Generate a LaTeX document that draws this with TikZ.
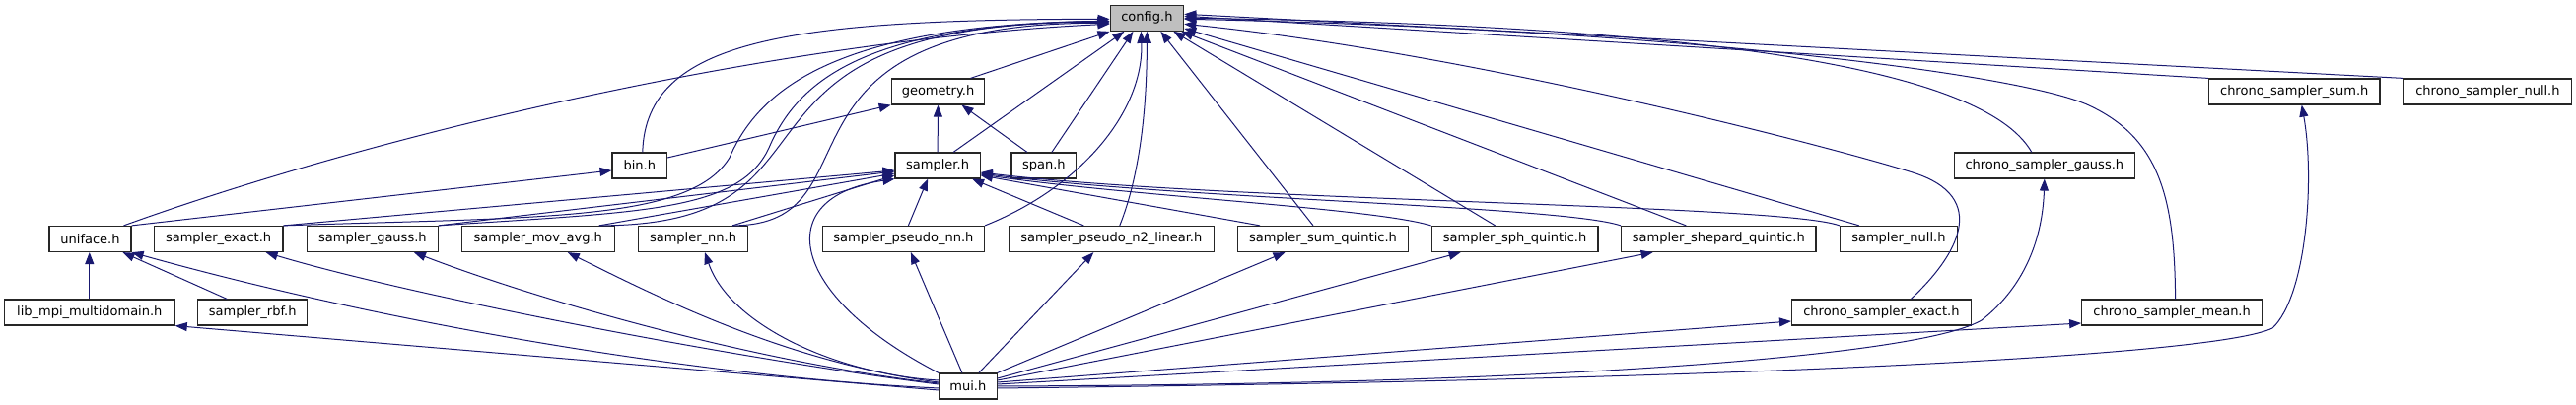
\documentclass[tikz,border=0pt]{standalone}
\usepackage{fontspec}
\setmainfont{DejaVu Sans}
\usepackage{tikz}
\usetikzlibrary{arrows.meta}
\definecolor{dblue}{RGB}{25,25,112}
\definecolor{dgray}{HTML}{BFBFBF}

\begin{document}
\begin{tikzpicture}[x=1pt, y=-1pt,
  file/.style={draw=black!85, line width=1.2pt, fill=white, minimum height=26pt,
    inner sep=0pt, font=\fontsize{13}{15}\selectfont},
  dep/.style={draw=dblue, line width=1pt, -{Triangle[length=12pt,width=9pt]}}]

  \useasboundingbox (0,0) rectangle (2613,411);

  %% row 0
  \node[file, fill=dgray, minimum width=74.6pt] (config) at (1163.4,18.3) {config.h};

  %% row 1
  \node[file, minimum width=94.6pt]  (geometry) at (951.5,93)  {geometry.h};
  \node[file, minimum width=173.5pt] (csum)     at (2327.2,93) {chrono\_sampler\_sum.h};
  \node[file, minimum width=170.1pt] (cnull)    at (2523.4,93) {chrono\_sampler\_null.h};

  %% row 2
  \node[file, minimum width=55.5pt]  (bin)     at (648.8,168)  {bin.h};
  \node[file, minimum width=86.1pt]  (sampler) at (951.1,168)  {sampler.h};
  \node[file, minimum width=65.8pt]  (span)    at (1058.9,168) {span.h};
  \node[file, minimum width=182.8pt] (cgauss)  at (2073.8,168) {chrono\_sampler\_gauss.h};

  %% row 3
  \node[file, minimum width=83pt]    (uniface) at (91.5,242.5)   {uniface.h};
  \node[file, minimum width=130.8pt] (sexact)  at (221.6,242.5)  {sampler\_exact.h};
  \node[file, minimum width=132.6pt] (sgauss)  at (377.9,242.5)  {sampler\_gauss.h};
  \node[file, minimum width=154.9pt] (smov)    at (545.8,242.5)  {sampler\_mov\_avg.h};
  \node[file, minimum width=111pt]   (snn)     at (703,242.5)    {sampler\_nn.h};
  \node[file, minimum width=164.2pt] (spnn)    at (916.4,242.5)  {sampler\_pseudo\_nn.h};
  \node[file, minimum width=207.8pt] (sn2)     at (1127.3,242.5) {sampler\_pseudo\_n2\_linear.h};
  \node[file, minimum width=173.4pt] (ssum)    at (1342,242.5)   {sampler\_sum\_quintic.h};
  \node[file, minimum width=168.8pt] (ssph)    at (1536.6,242.5) {sampler\_sph\_quintic.h};
  \node[file, minimum width=197.5pt] (sshep)   at (1743.3,242.5) {sampler\_shepard\_quintic.h};
  \node[file, minimum width=118.8pt] (snull)   at (1925.9,242.5) {sampler\_null.h};

  %% row 4
  \node[file, minimum width=172.7pt] (libmpi) at (90.8,317)   {lib\_mpi\_multidomain.h};
  \node[file, minimum width=110.7pt] (srbf)   at (256.2,317)  {sampler\_rbf.h};
  \node[file, minimum width=181.7pt] (cexact) at (1908.4,317) {chrono\_sampler\_exact.h};
  \node[file, minimum width=182.8pt] (cmean)  at (2203.1,317) {chrono\_sampler\_mean.h};

  %% row 5
  \node[file, minimum width=58.5pt] (mui) at (981.9,392) {mui.h};

  %% into config.h, from the left
  \draw[dep] ([xshift=3pt]bin.north) .. controls (655,40) and (800,20) .. ([yshift=-1pt]config.west);
  \draw[dep] ([xshift=34pt]uniface.north) .. controls (400,130) and (800,40) .. ([yshift=-6pt]config.west);
  \draw[dep] (sexact.north east) .. controls (550,220) and (700,225) .. (740,160)
    .. controls (770,90) and (850,25) .. ([yshift=-3pt]config.west);
  \draw[dep] (sgauss.north east) .. controls (650,215) and (750,215) .. (780,150)
    .. controls (810,80) and (880,25) .. ([yshift=-3pt]config.west);
  \draw[dep] ([xshift=62pt]smov.north) .. controls +(272,0) and +(-426,0) .. ([yshift=-4pt]config.west);
  \draw[dep] ([xshift=40pt]snn.north) .. controls +(155,0) and +(-365,0) .. ([yshift=-5pt]config.west);

  %% into config.h, from below
  \draw[dep] ([xshift=33pt]geometry.north) -- (config.south west);
  \draw[dep] ([xshift=16pt]sampler.north) -- ([xshift=-23pt]config.south);
  \draw[dep] ([xshift=8pt]span.north) -- ([xshift=-14pt]config.south);
  \draw[dep] (spnn.north east) .. controls +(100,-40) and +(3,79) .. ([xshift=-6pt]config.south);
  \draw[dep] ([xshift=8.5pt]sn2.north) .. controls +(20,-50) and +(0,80) .. (config.south);
  \draw[dep] ([xshift=-10pt]ssum.north) -- ([xshift=14pt]config.south);
  \draw[dep] ([xshift=-20pt]ssph.north) -- ([xshift=27pt]config.south);
  \draw[dep] ([xshift=-33pt]sshep.north) -- ([xshift=-3pt]config.south east);
  \draw[dep] ([xshift=-40pt]snull.north) -- ([yshift=3pt]config.south east);

  %% into config.h, from the right
  \draw[dep] ([xshift=30pt]cexact.north) .. controls (1985,260) and (2020,200) .. (1940,175)
    .. controls (1860,150) and (1500,55) .. ([yshift=-6pt]config.east);
  \draw[dep] ([xshift=3.5pt]cmean.north) .. controls (2206,200) and (2190,140) .. (2119,107)
    .. controls (2050,75) and (1700,30) .. ([yshift=-1pt]config.east);
  \draw[dep] ([xshift=-13pt]cgauss.north) .. controls (2010,65) and (1700,25) .. (config.east);
  \draw[dep] (csum.north west) -- ([yshift=2pt]config.east);
  \draw[dep] (cnull.north west) -- ([yshift=4pt]config.east);

  %% geometry.h and bin.h
  \draw[dep] ([yshift=8pt]bin.east) -- (geometry.south west);
  \draw[dep] (sampler.north) -- (geometry.south);
  \draw[dep] ([xshift=-17pt]span.north) -- ([xshift=24pt]geometry.south);
  \draw[dep] (uniface.north east) -- ([yshift=-5pt]bin.west);

  %% into sampler.h
  \draw[dep] (sexact.north east) -- ([yshift=-5pt]sampler.west);
  \draw[dep] (sgauss.north east) -- ([yshift=-6pt]sampler.west);
  \draw[dep] ([xshift=62pt]smov.north) -- ([yshift=-8pt]sampler.west);
  \draw[dep] ([xshift=40pt]snn.north) -- ([yshift=-10pt]sampler.west);
  \draw[dep] ([xshift=5pt]spnn.north) -- ([xshift=-10pt]sampler.south);
  \draw[dep] ([xshift=-28pt]sn2.north) -- ([xshift=35pt]sampler.south);
  \draw[dep] ([xshift=-64pt]ssum.north) -- ([yshift=-10pt]sampler.east);
  \draw[dep] (ssph.north west) .. controls +(-60,-18) and +(150,22) .. ([yshift=-9pt]sampler.east);
  \draw[dep] (sshep.north west) .. controls +(-60,-20) and +(200,26) .. ([yshift=-8pt]sampler.east);
  \draw[dep] (snull.north west) .. controls +(-60,-22) and +(250,30) .. ([yshift=-7pt]sampler.east);

  %% uniface.h
  \draw[dep] (libmpi.north) -- ([xshift=-0.7pt]uniface.south);
  \draw[dep] ([xshift=-26pt]srbf.north) -- ([xshift=33pt]uniface.south);

  %% from mui.h
  \draw[dep] ([yshift=-2pt]mui.west) .. controls +(-250,-12) and +(250,70) .. (uniface.south east);
  \draw[dep] ([yshift=-4pt]mui.west) -- (libmpi.south east);
  \draw[dep] ([yshift=2pt]mui.west) .. controls +(-200,-25) and +(150,45) .. ([xshift=48pt]sexact.south);
  \draw[dep] ([yshift=3pt]mui.west) .. controls +(-180,-20) and +(130,50) .. ([xshift=42pt]sgauss.south);
  \draw[dep] ([yshift=4pt]mui.west) .. controls +(-150,-20) and +(100,50) .. ([xshift=30pt]smov.south);
  \draw[dep] ([yshift=6pt]mui.west) .. controls (850,380) and (740,330) .. ([xshift=12pt]snn.south);
  \draw[dep] (mui.north west) .. controls (800,300) and (780,200) .. (sampler.south west);
  \draw[dep] ([xshift=-6pt]mui.north) -- ([xshift=7.5pt]spnn.south);
  \draw[dep] ([xshift=11pt]mui.north) -- ([xshift=-18pt]sn2.south);
  \draw[dep] (mui.north east) -- ([xshift=-38.5pt]ssum.south);
  \draw[dep] ([yshift=8pt]mui.east) -- ([xshift=-55pt]ssph.south);
  \draw[dep] ([yshift=6pt]mui.east) -- ([xshift=-66.7pt]sshep.south);
  \draw[dep] ([yshift=4pt]mui.east) -- ([yshift=-9pt]cexact.west);
  \draw[dep] ([yshift=2pt]mui.east) -- ([yshift=-11pt]cmean.west);
  \draw[dep] (mui.east) .. controls (1600,390) and (1950,360) .. (2010,325)
    .. controls (2055,290) and (2072,240) .. (cgauss.south);
  \draw[dep] ([yshift=-2pt]mui.east) .. controls (1800,385) and (2250,360) .. (2305,333)
    .. controls (2340,300) and (2348,180) .. ([xshift=7.5pt]csum.south);

\end{tikzpicture}
\end{document}
